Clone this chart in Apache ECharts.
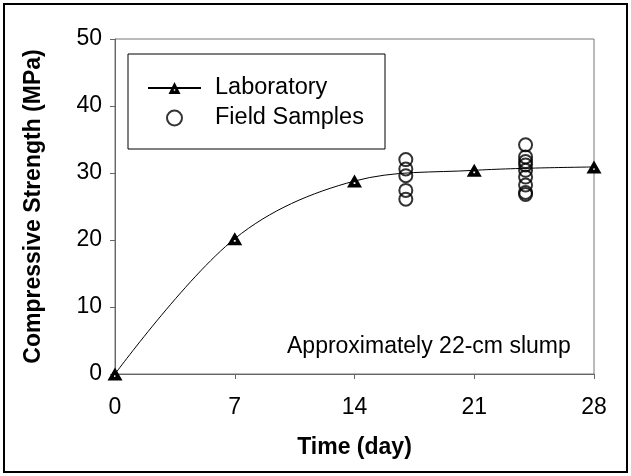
<!DOCTYPE html>
<html>
<head>
<meta charset="utf-8">
<script src="https://cdn.jsdelivr.net/npm/echarts@6/dist/echarts.min.js"></script>
<style>
  html, body { margin: 0; padding: 0; background: #fff; }
  #chart { width: 631px; height: 476px; }
</style>
</head>
<body>
<div id="chart"></div>
<script>
// laboratory curve
var labDays = [0, 7, 14, 21, 28];
var labStrength = [0, 20.2, 28.8, 30.4, 30.9];
// field samples (taken at day 17 and day 24)
var fieldDays = [17, 17, 17, 17, 17, 24, 24, 24, 24, 24, 24, 24, 24, 24];
var fieldStrength = [32.0, 30.6, 29.6, 27.4, 26.1, 34.2, 32.4, 31.7, 31.2, 30.4, 29.4, 28.2, 27.1, 26.8];
var xTicks = [0, 7, 14, 21, 28];
var yTicks = [0, 10, 20, 30, 40, 50];

var FONT = 'Liberation Sans, Arial, sans-serif';
// triangle with a little white hole in the middle
var TRI = 'path://M5,0L10,9L0,9Z M4.4,5.4L4.4,6.6L5.6,6.6L5.6,5.4Z';

var chart = echarts.init(document.getElementById('chart'));

var option = {
    backgroundColor: '#fff',
    animation: false,
    grid: {
        left: 115, right: 37, top: 39, bottom: 102,
        show: true,
        borderColor: '#777',
        borderWidth: 1
    },
    xAxis: {
        type: 'value',
        min: xTicks[0],
        max: xTicks[xTicks.length - 1],
        interval: 7,
        name: 'Time (day)',
        nameLocation: 'middle',
        nameGap: 62,
        nameTextStyle: { fontFamily: FONT, fontSize: 23, fontWeight: 'bold', color: '#000' },
        axisLine: { lineStyle: { color: '#666', width: 1 } },
        axisTick: { show: true, length: 5, lineStyle: { color: '#666' } },
        axisLabel: { fontFamily: FONT, fontSize: 23, color: '#000', margin: 22 },
        splitLine: { show: false }
    },
    yAxis: {
        type: 'value',
        min: yTicks[0],
        max: yTicks[yTicks.length - 1],
        interval: 10,
        name: 'Compressive Strength (MPa)',
        nameLocation: 'middle',
        nameGap: 70,
        nameTextStyle: { fontFamily: FONT, fontSize: 23, fontWeight: 'bold', color: '#000' },
        axisLine: { show: true, lineStyle: { color: '#666', width: 1 } },
        axisTick: { show: true, length: 5, lineStyle: { color: '#666' } },
        axisLabel: { fontFamily: FONT, fontSize: 23, color: '#000', margin: 13 },
        splitLine: { show: false }
    },
    legend: {
        orient: 'vertical',
        left: 147,
        top: 76,
        itemWidth: 53,
        itemHeight: 15,
        itemGap: 6,
        padding: 0,
        textStyle: { fontFamily: FONT, fontSize: 23.5, color: '#000', lineHeight: 24, padding: [0, 0, 0, 9] },
        data: ['Laboratory', 'Field Samples']
    },
    graphic: [
        {
            type: 'rect',
            shape: { x: 128, y: 54, width: 257, height: 95 },
            style: { fill: 'none', stroke: '#000', lineWidth: 1 },
            z: 1
        },
        {
            type: 'text',
            left: 287,
            top: 335,
            style: { text: 'Approximately 22-cm slump', font: '23px ' + FONT, fill: '#000' }
        },
        {
            type: 'rect',
            shape: { x: 4, y: 4, width: 623, height: 468 },
            style: { fill: 'none', stroke: '#000', lineWidth: 2 }
        }
    ],
    series: [
        {
            name: 'Laboratory',
            type: 'line',
            smooth: 0.35,
            data: labDays.map(function (d, i) { return [d, labStrength[i]]; }),
            symbol: TRI,
            symbolSize: [15, 13],
            lineStyle: { color: '#000', width: 1 },
            itemStyle: { color: '#000' },
            z: 3
        },
        {
            name: 'Field Samples',
            type: 'scatter',
            data: fieldDays.map(function (d, i) { return [d, fieldStrength[i]]; }),
            symbol: 'circle',
            symbolSize: 13,
            itemStyle: { color: 'rgba(0,0,0,0)', borderColor: '#000', borderWidth: 2 },
            z: 4
        }
    ]
};

chart.setOption(option);
</script>
</body>
</html>
